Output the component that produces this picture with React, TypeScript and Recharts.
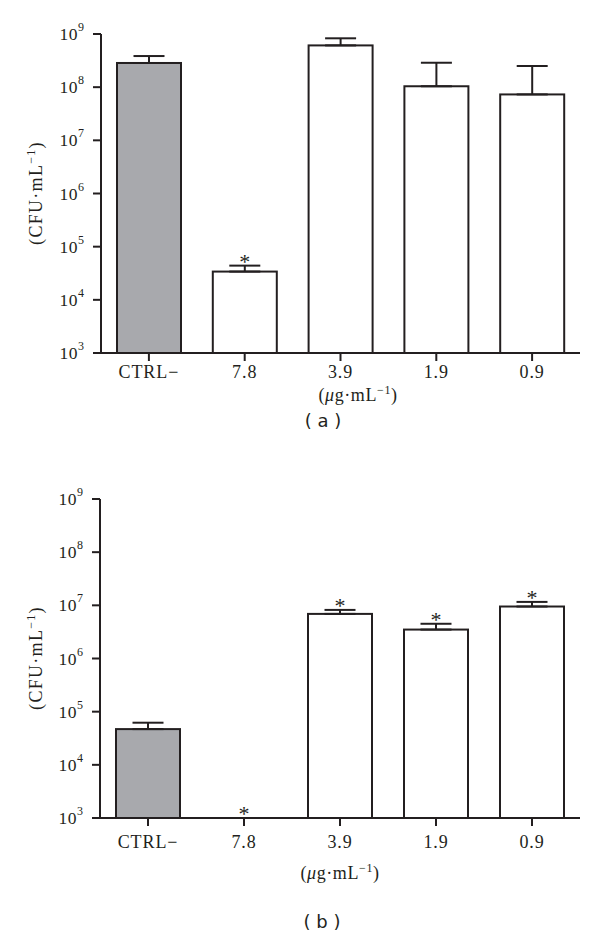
import React from 'react';
import { ComposedChart, Bar, XAxis, YAxis, ErrorBar, Line } from 'recharts';

const categories = ['CTRL\u2212', '7.8', '3.9', '1.9', '0.9'];
const yTicks = [1e3, 1e4, 1e5, 1e6, 1e7, 1e8, 1e9];
const yExponents = ['3', '4', '5', '6', '7', '8', '9'];
const barFills = ['#a8a9ad', '#ffffff', '#ffffff', '#ffffff', '#ffffff'];

// Panel (a)
const meanA = [2.85e8, 3.4e4, 6.1e8, 1.04e8, 7.3e7];
const errUpA = [1.0e8, 1.0e4, 2.2e8, 1.84e8, 1.77e8];
const sigA = [false, true, false, false, false];

// Panel (b)
const meanB = [4.7e4, null, 6.9e6, 3.5e6, 9.5e6];
const errUpB = [1.5e4, null, 1.3e6, 1.0e6, 2.1e6];
const sigB = [false, true, true, true, true];

const SERIF = '"Liberation Serif", "DejaVu Serif", "Times New Roman", serif';
const SANS = '"DejaVu Sans", Verdana, sans-serif';
const INK = '#231f20';

function buildRows(means: (number | null)[], errs: (number | null)[], sig: boolean[]) {
  return categories.map((cat, i) => {
    const m = means[i];
    const e = errs[i];
    return {
      cat,
      mean: m,
      err: m != null && e != null ? [0, e] : null,
      fill: barFills[i],
      star: sig[i] ? (m != null && e != null ? m + e : yTicks[0]) : null,
    };
  });
}

const rowsA = buildRows(meanA, errUpA, sigA);
const rowsB = buildRows(meanB, errUpB, sigB);

const YTick = (props: any) => {
  const { x, y, index } = props;
  return (
    <text x={x - 7} y={y + 6} textAnchor="end" fontFamily={SERIF} fill={INK}>
      <tspan fontSize={17.5} letterSpacing={0.5}>10</tspan>
      <tspan fontSize={12} dy={-9}>{yExponents[index]}</tspan>
    </text>
  );
};

const makeXTick = (dy: number) => (props: any) => {
  const { x, y, payload } = props;
  return (
    <text x={x} y={y + dy} textAnchor="middle" fontFamily={SERIF} fontSize={18} letterSpacing={0.9} fill={INK}>
      {payload.value}
    </text>
  );
};

const BarShape = (p: any) => {
  if (p.payload == null || p.payload.mean == null || !isFinite(p.height) || !isFinite(p.y)) return <g />;
  return (
    <rect x={p.x} y={p.y} width={p.width} height={p.height} fill={p.payload.fill} stroke={INK} strokeWidth={2} />
  );
};

const StarDot = (p: any) => {
  const { cx, cy, index } = p;
  if (cy == null || !isFinite(cy)) return <g key={`s${index}`} />;
  return (
    <text key={`s${index}`} x={cx} y={cy + 3} textAnchor="middle" fontFamily={SERIF} fontSize={22} fill={INK}>
      *
    </text>
  );
};

function Panel(props: { rows: any[]; yAxisWidth: number; tickDy: number }) {
  const { rows, yAxisWidth, tickDy } = props;
  return (
    <ComposedChart
      width={600}
      height={440}
      data={rows}
      margin={{ top: 34, right: 20, left: 0, bottom: 47 }}
    >
      <XAxis
        dataKey="cat"
        height={40}
        tickSize={8}
        axisLine={{ stroke: INK, strokeWidth: 2 }}
        tickLine={{ stroke: INK, strokeWidth: 2 }}
        tick={makeXTick(tickDy)}
        interval={0}
      />
      <YAxis
        scale="log"
        domain={[1e3, 1e9]}
        ticks={yTicks}
        allowDataOverflow
        width={yAxisWidth}
        tickSize={8}
        axisLine={{ stroke: INK, strokeWidth: 2 }}
        tickLine={{ stroke: INK, strokeWidth: 2 }}
        tick={<YTick />}
        interval={0}
      />
      <Bar dataKey="mean" barSize={64} isAnimationActive={false} shape={BarShape}>
        <ErrorBar dataKey="err" width={15.5} stroke={INK} strokeWidth={2} direction="y" />
      </Bar>
      <Line
        dataKey="star"
        stroke="none"
        dot={StarDot}
        activeDot={false}
        isAnimationActive={false}
        connectNulls={false}
      />
    </ComposedChart>
  );
}

const YLabel = (props: { cx: number; cy: number }) => {
  const { cx, cy } = props;
  return (
    <text
      x={cx}
      y={cy}
      transform={`rotate(-90, ${cx}, ${cy})`}
      textAnchor="middle"
      fontFamily={SERIF}
      fontSize={18}
      letterSpacing={1.3}
      fill={INK}
    >
      (CFU·mL
      <tspan fontSize={12} dy={-7}>{'\u22121'}</tspan>
      <tspan dy={7}>)</tspan>
    </text>
  );
};

const UnitLabel = (props: { cx: number; y: number }) => (
  <text x={props.cx} y={props.y} textAnchor="middle" fontFamily={SERIF} fontSize={18} letterSpacing={0.6} fill={INK}>
    (<tspan fontStyle="italic">μ</tspan>g·mL
    <tspan fontSize={12} dy={-7}>{'\u22121'}</tspan>
    <tspan dy={7}>)</tspan>
  </text>
);

export default function App() {
  return (
    <div style={{ position: 'absolute', left: 0, top: 0, width: 600, height: 936, background: '#fff' }}>
      <div style={{ position: 'absolute', left: 0, top: 0 }}>
        <Panel rows={rowsA} yAxisWidth={101} tickDy={15} />
      </div>
      <div style={{ position: 'absolute', left: 0, top: 465 }}>
        <Panel rows={rowsB} yAxisWidth={100} tickDy={20} />
      </div>
      <svg width={600} height={936} style={{ position: 'absolute', left: 0, top: 0, pointerEvents: 'none' }}>
        <YLabel cx={42} cy={193} />
        <YLabel cx={42} cy={658} />
        <UnitLabel cx={358} y={401} />
        <UnitLabel cx={340} y={879} />
        <text x={323} y={427} textAnchor="middle" fontFamily={SANS} fontSize={18} fill={INK}>( a )</text>
        <text x={322} y={928} textAnchor="middle" fontFamily={SANS} fontSize={18} fill={INK}>( b )</text>
      </svg>
    </div>
  );
}
